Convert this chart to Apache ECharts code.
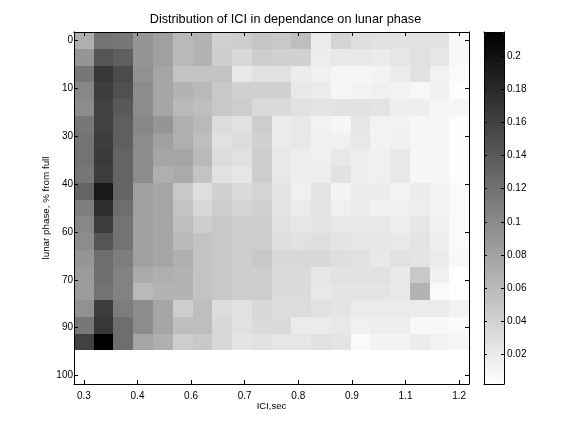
<!DOCTYPE html>
<html><head><meta charset="utf-8">
<style>html,body{margin:0;padding:0;background:#fff}#c{width:576px;height:432px}</style>
<script src="https://cdn.jsdelivr.net/npm/echarts@6/dist/echarts.min.js"></script>
</head><body><div id="c"></div>
<script>
const iciCentres=[.3,.347,.395,.442,.489,.537,.584,.632,.679,.726,.774,.821,.868,.916,.963,1.011,1.058,1.105,1.153,1.2];
const iciLeftEdge=.2763, iciStep=0.04737;
const phaseStep=5;
const r0=[.069,.119,.115,.090,.081,.060,.065,.040,.044,.050,.048,.056,.019,.038,.030,.027,.027,.027,.027,.008];
const r5=[.090,.144,.135,.090,.081,.060,.065,.044,.035,.044,.040,.040,.017,.021,.021,.019,.023,.027,.023,.008];
const r10=[.115,.169,.152,.094,.077,.052,.052,.052,.021,.027,.027,.018,.015,.010,.010,.012,.019,.027,.013,.006];
const r15=[.102,.164,.148,.098,.077,.065,.060,.048,.040,.040,.040,.021,.019,.010,.012,.015,.013,.009,.015,.004];
const r20=[.098,.160,.140,.098,.077,.060,.056,.048,.044,.033,.033,.027,.025,.026,.027,.025,.016,.016,.010,.010];
const r25=[.115,.160,.135,.102,.090,.069,.060,.031,.027,.044,.019,.021,.013,.010,.023,.013,.013,.010,.010,.004];
const r30=[.119,.164,.135,.098,.081,.069,.056,.027,.031,.040,.019,.021,.015,.015,.021,.013,.015,.010,.010,.004];
const r35=[.119,.166,.131,.098,.077,.077,.060,.031,.027,.044,.021,.016,.015,.021,.016,.015,.021,.010,.010,.004];
const r40=[.115,.164,.131,.098,.069,.073,.052,.027,.023,.044,.021,.016,.016,.026,.016,.015,.021,.010,.010,.004];
const r45=[.131,.194,.131,.081,.077,.048,.030,.040,.033,.038,.025,.015,.025,.012,.019,.019,.013,.019,.013,.006];
const r50=[.110,.177,.123,.081,.077,.052,.035,.044,.038,.040,.025,.019,.025,.015,.019,.015,.015,.016,.013,.006];
const r55=[.102,.164,.119,.081,.077,.056,.044,.048,.044,.044,.027,.023,.025,.021,.021,.021,.016,.023,.015,.006];
const r60=[.098,.144,.119,.081,.077,.060,.052,.048,.044,.044,.030,.027,.030,.025,.023,.023,.021,.025,.016,.006];
const r65=[.090,.123,.110,.081,.077,.069,.052,.048,.044,.048,.035,.035,.035,.030,.027,.021,.027,.025,.019,.008];
const r70=[.085,.123,.106,.073,.069,.065,.052,.048,.044,.044,.033,.033,.023,.027,.027,.027,.021,.048,.015,.002];
const r75=[.085,.119,.106,.060,.065,.065,.052,.048,.044,.044,.033,.033,.021,.025,.025,.025,.021,.065,.006,.002];
const r80=[.094,.164,.110,.098,.077,.044,.056,.031,.027,.035,.031,.031,.027,.025,.019,.019,.019,.019,.019,.013];
const r85=[.115,.169,.123,.098,.077,.056,.056,.035,.027,.033,.033,.019,.019,.021,.015,.016,.016,.008,.008,.006];
const r90=[.160,.2145,.123,.077,.069,.044,.048,.035,.025,.027,.023,.023,.027,.025,.006,.012,.012,.018,.013,.010];
const rows=[r0,r5,r10,r15,r20,r25,r30,r35,r40,r45,r50,r55,r60,r65,r70,r75,r80,r85,r90];
const xTicks=[.3,.4286,.5571,.6857,.8143,.9429,1.0714,1.2];
const xTickLabels=['0.3','0.4','0.6','0.7','0.8','0.9','1.1','1.2'];
const yTicks=[0,14.29,28.57,42.86,57.14,71.43,85.71,100];
const yTickLabels=['0','10','30','40','60','70','90','100'];
const cbTicks=[.02,.04,.06,.08,.1,.12,.14,.16,.18,.2];
const cbLabels=['0.02','0.04','0.06','0.08','0.1','0.12','0.14','0.16','0.18','0.2'];
const vMin=.0021,vMax=.2145;

const cells=[];
rows.forEach((row,r)=>row.forEach((v,c)=>cells.push([iciCentres[c],r*phaseStep,v,c])));
const fontFamily='"Liberation Sans",Arial,sans-serif';
const line={show:true,onZero:false,lineStyle:{color:'#000',width:1}};
const tick=(vals,len)=>({show:true,inside:true,length:len||4,customValues:vals,lineStyle:{color:'#000',width:1}});
const labelStyle={show:true,color:'#000',fontFamily,fontSize:10};
const lookup=(vals,labels)=>v=>{let best=0;vals.forEach((t,i)=>{if(Math.abs(t-v)<Math.abs(vals[best]-v))best=i;});return labels[best];};
const xRange={type:'value',gridIndex:0,min:.2763,max:1.2237,splitLine:{show:false},z:6};
const yRange={type:'value',gridIndex:0,min:-2.5,max:102.5,inverse:true,splitLine:{show:false},z:6};
const cbRange={type:'value',gridIndex:1,min:vMin,max:vMax,splitLine:{show:false},z:6};
const chart=echarts.init(document.getElementById('c'),null,{renderer:'canvas'});
chart.setOption({
  animation:false,backgroundColor:'#fff',
  title:{text:'Distribution of ICI in dependance on lunar phase',left:285.5,top:13,padding:0,textAlign:'center',
    textStyle:{color:'#000',fontFamily,fontSize:12.7,fontWeight:'normal'}},
  grid:[{left:74,top:32,width:395,height:352,show:false},{left:484,top:32,width:20,height:352,show:false}],
  xAxis:[
    {...xRange,position:'bottom',axisLine:line,axisTick:tick(xTicks),
     axisLabel:{...labelStyle,customValues:xTicks,margin:7,formatter:lookup(xTicks,xTickLabels)},
     name:'ICI,sec',nameLocation:'middle',nameGap:17,nameMoveOverlap:false,nameTextStyle:{color:'#000',fontFamily,fontSize:9.5}},
    {...xRange,position:'top',axisLine:line,axisTick:tick(xTicks),axisLabel:{show:false}},
    {type:'value',gridIndex:1,min:0,max:1,position:'bottom',axisLine:line,axisTick:{show:false},axisLabel:{show:false},splitLine:{show:false},z:6},
    {type:'value',gridIndex:1,min:0,max:1,position:'top',axisLine:line,axisTick:{show:false},axisLabel:{show:false},splitLine:{show:false},z:6}
  ],
  yAxis:[
    {...yRange,position:'left',axisLine:line,axisTick:tick(yTicks),
     axisLabel:{...labelStyle,customValues:yTicks,margin:1,padding:[4,0,0,0],formatter:lookup(yTicks,yTickLabels)},
     name:'lunar phase, % from full',nameLocation:'middle',nameGap:23,nameMoveOverlap:false,nameTextStyle:{color:'#000',fontFamily,fontSize:9.8}},
    {...yRange,position:'right',axisLine:line,axisTick:tick(yTicks),axisLabel:{show:false}},
    {...cbRange,position:'right',axisLine:line,axisTick:tick(cbTicks,3),
     axisLabel:{...labelStyle,customValues:cbTicks,margin:3,formatter:lookup(cbTicks,cbLabels)}},
    {...cbRange,position:'left',axisLine:line,axisTick:tick(cbTicks,3),axisLabel:{show:false}}
  ],
  visualMap:{type:'continuous',min:vMin,max:vMax,dimension:2,seriesIndex:0,orient:'vertical',
    left:484,top:32,itemWidth:20,itemHeight:352,padding:0,text:['',''],calculable:false,realtime:false,hoverLink:false,
    inRange:{color:['#ffffff','#000000']}},
  series:[{
    type:'custom',xAxisIndex:0,yAxisIndex:0,coordinateSystem:'cartesian2d',data:cells,
    encode:{x:0,y:1},clip:true,silent:true,
    renderItem:(params,api)=>{
      const c=api.value(3);
      const a=api.coord([iciLeftEdge+c*iciStep,api.value(1)-phaseStep/2]);
      const b=api.coord([iciLeftEdge+(c+1)*iciStep,api.value(1)+phaseStep/2]);
      const x0=Math.round(a[0]),x1=Math.round(b[0]),y0=Math.round(a[1]),y1=Math.round(b[1]);
      return {type:'rect',shape:{x:x0,y:y0,width:x1-x0,height:y1-y0},style:{fill:api.visual('color')}};
    }
  }]
});
</script></body></html>
